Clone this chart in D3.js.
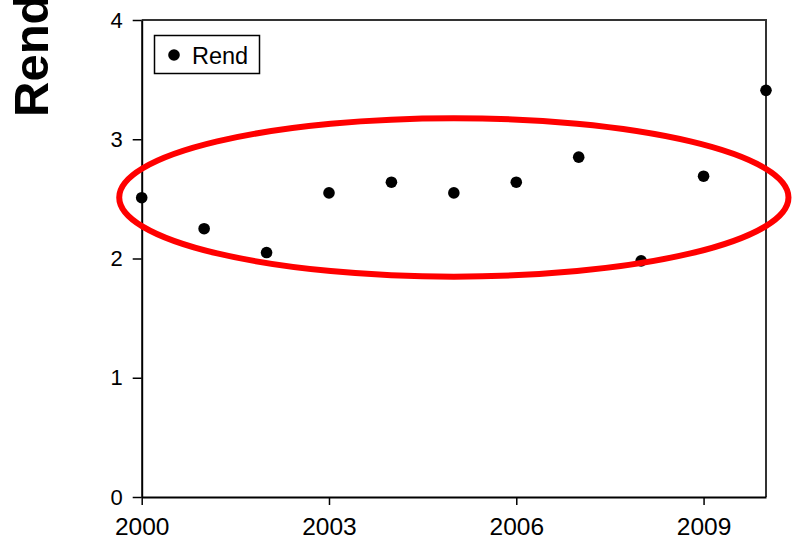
<!DOCTYPE html>
<html>
<head>
<meta charset="utf-8">
<script src="https://cdn.jsdelivr.net/npm/d3@7"></script>
<style>
  html, body { margin: 0; padding: 0; background: #fff; }
  svg { display: block; }
  text { font-family: Arial, "Liberation Sans", sans-serif; fill: #000; }
</style>
</head>
<body>
<svg id="chart" width="798" height="555"></svg>
<script>
// Data
const years = [2000, 2001, 2002, 2003, 2004, 2005, 2006, 2007, 2008, 2009, 2010];
const rend  = [2.51, 2.25, 2.05, 2.55, 2.64, 2.55, 2.64, 2.85, 1.98, 2.69, 3.41];
const xTicks = [2000, 2003, 2006, 2009];
const yTicks = [0, 1, 2, 3, 4];
const seriesName = "Rend";
const yLabel = "Rend";
// highlight ellipse (data units): center year/value, radii in years/value
const ellipse = { cx: 2005.0, cy: 2.512, rx: 5.36, ry: 0.664 };

(function () {
const svg = d3.select("#chart");
const mLeft = 141.7, mRight = 766, mTop = 20, mBottom = 497;

const x = d3.scaleLinear().domain([2000, 2010]).range([mLeft, mRight]);
const y = d3.scaleLinear().domain([0, 4]).range([mBottom, mTop]);

// frame (top and right)
svg.append("path")
  .attr("d", `M${mLeft},${mTop}H${mRight}V${mBottom}`)
  .attr("fill", "none").attr("stroke", "#333").attr("stroke-width", 2);

// y axis
const yAxis = svg.append("g").attr("transform", `translate(${mLeft},0)`)
  .call(d3.axisLeft(y).tickValues(yTicks).tickSize(9).tickSizeOuter(0).tickPadding(10).tickFormat(d3.format("d")));
yAxis.attr("font-size", 22).attr("font-family", "Arial, 'Liberation Sans', sans-serif");
yAxis.select(".domain").attr("stroke", "#000").attr("stroke-width", 2);
yAxis.selectAll(".tick line").attr("stroke", "#000").attr("stroke-width", 1.5);
yAxis.selectAll(".tick text").attr("fill", "#000");

// x axis
const xAxis = svg.append("g").attr("transform", `translate(0,${mBottom})`)
  .call(d3.axisBottom(x).tickValues(xTicks).tickSize(8).tickSizeOuter(0).tickPadding(13).tickFormat(d3.format("d")));
xAxis.attr("font-size", 24.5).attr("font-family", "Arial, 'Liberation Sans', sans-serif");
xAxis.select(".domain").attr("stroke", "#000").attr("stroke-width", 2);
xAxis.selectAll(".tick line").attr("stroke", "#000").attr("stroke-width", 1.5);
xAxis.selectAll(".tick text").attr("fill", "#000");

// y axis title
svg.append("text")
  .attr("transform", `translate(48,117) rotate(-90)`)
  .attr("text-anchor", "start")
  .style("font-size", "49px").style("font-weight", "bold")
  .text(yLabel);

// points
svg.append("g").selectAll("circle")
  .data(years.map((yr, i) => ({ yr, v: rend[i] })))
  .join("circle")
  .attr("cx", d => x(d.yr)).attr("cy", d => y(d.v))
  .attr("r", 5.8).attr("fill", "#000");

// ellipse annotation
svg.append("ellipse")
  .attr("cx", x(ellipse.cx)).attr("cy", y(ellipse.cy))
  .attr("rx", x(ellipse.cx + ellipse.rx) - x(ellipse.cx))
  .attr("ry", y(ellipse.cy) - y(ellipse.cy + ellipse.ry))
  .attr("fill", "none").attr("stroke", "#ff0000").attr("stroke-width", 6);

// legend
const lg = svg.append("g");
lg.append("rect").attr("x", 154.5).attr("y", 35.5).attr("width", 105).attr("height", 38)
  .attr("fill", "#fff").attr("stroke", "#000").attr("stroke-width", 1.5);
lg.append("circle").attr("cx", 174).attr("cy", 55).attr("r", 5.8).attr("fill", "#000");
lg.append("text").attr("x", 192).attr("y", 63.5).style("font-size", "23.5px").text(seriesName);
})();
</script>
</body>
</html>
